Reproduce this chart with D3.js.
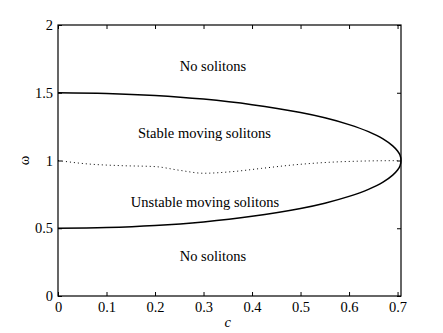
<!DOCTYPE html>
<html><head><meta charset="utf-8">
<script src="https://cdn.jsdelivr.net/npm/d3@7"></script>
<style>body{margin:0;background:#fff}svg{display:block}text{font-family:"Liberation Serif","DejaVu Serif","Times New Roman",serif;fill:#000}</style>
</head><body>
<script>
const xTicks = [0,0.1,0.2,0.3,0.4,0.5,0.6,0.7];
const yTicks = [0,0.5,1,1.5,2];
const yTickLabels = ["0","0.5","1","1.5","2"];
// boundary (upper branch)
const boundC     = [0, 0.1, 0.2, 0.3, 0.4, 0.5, 0.55, 0.6, 0.64, 0.67, 0.69, 0.70, 0.705, 0.7071];
const upperOmega = [1.5, 1.495, 1.48, 1.453, 1.412, 1.354, 1.315, 1.265, 1.213, 1.16, 1.108, 1.07, 1.04, 1.0];
const lowerOmega = [0.5, 0.505, 0.52, 0.547, 0.588, 0.646, 0.685, 0.735, 0.787, 0.84, 0.892, 0.93, 0.96, 1.0];
// dotted stability line
const dotC     = [0, 0.06, 0.13, 0.2, 0.25, 0.3, 0.36, 0.42, 0.49, 0.56, 0.63, 0.7];
const dotOmega = [1.0, 0.975, 0.962, 0.955, 0.928, 0.906, 0.918, 0.942, 0.969, 0.987, 0.996, 0.999];
const labels = [
  {text:"No solitons", c:0.3195, w:1.697},
  {text:"Stable moving solitons", c:0.302, w:1.203},
  {text:"Unstable moving solitons", c:0.303, w:0.696},
  {text:"No solitons", c:0.3195, w:0.295}
];

const W=443,H=333, L=58, R=401, T=25, B=296;
const svg = d3.select("body").append("svg").attr("width",W).attr("height",H);
const x = d3.scaleLinear().domain([0,0.7071]).range([L,R]);
const y = d3.scaleLinear().domain([0,2]).range([B,T]);

const fs = 14.5;
// axes with inward ticks
const gB = svg.append("g").attr("transform",`translate(0,${B})`)
  .call(d3.axisBottom(x).tickValues(xTicks).tickSize(-4).tickPadding(6).tickFormat(d3.format("")));
const gT = svg.append("g").attr("transform",`translate(0,${T})`)
  .call(d3.axisTop(x).tickValues(xTicks).tickSize(-4).tickFormat(""));
const gL = svg.append("g").attr("transform",`translate(${L},0)`)
  .call(d3.axisLeft(y).tickValues(yTicks).tickSize(-4).tickPadding(5).tickFormat((d,i)=>yTickLabels[i]));
const gR = svg.append("g").attr("transform",`translate(${R},0)`)
  .call(d3.axisRight(y).tickValues(yTicks).tickSize(-4).tickFormat(""));
[gB,gT,gL,gR].forEach(g=>{
  g.attr("font-family",null);
  g.select(".domain").remove();
  g.selectAll(".tick line").attr("stroke","#000").attr("stroke-width",1);
  g.selectAll("text").attr("font-size",fs);
});
svg.append("rect").attr("x",L).attr("y",T).attr("width",R-L).attr("height",B-T)
  .attr("fill","none").attr("stroke","#000").attr("stroke-width",1.2);

// boundary curve
const pts = boundC.map((c,i)=>[c,upperOmega[i]]).concat(
  boundC.slice().reverse().map((c,i)=>[c, lowerOmega[boundC.length-1-i]]).slice(1));
svg.append("path").datum(pts)
  .attr("d", d3.line().x(d=>x(d[0])).y(d=>y(d[1])).curve(d3.curveCatmullRom.alpha(0.5)))
  .attr("fill","none").attr("stroke","#000").attr("stroke-width",1.5);

// dotted line
svg.append("path").datum(dotC.map((c,i)=>[c,dotOmega[i]]))
  .attr("d", d3.line().x(d=>x(d[0])).y(d=>y(d[1])).curve(d3.curveMonotoneX))
  .attr("fill","none").attr("stroke","#000").attr("stroke-width",1).attr("stroke-dasharray","1,3");

// region labels
svg.selectAll("text.lab").data(labels).enter().append("text").attr("class","lab")
  .attr("x",d=>x(d.c)).attr("y",d=>y(d.w)).attr("text-anchor","middle").attr("dy","0.35em")
  .attr("font-size",fs).text(d=>d.text);

// axis labels
svg.append("text").attr("x",x(0.35)).attr("y",327).attr("text-anchor","middle")
  .attr("font-size",fs).attr("font-style","italic").text("c");
svg.append("text").attr("transform",`translate(29,${y(1)}) rotate(-90)`).attr("text-anchor","middle")
  .attr("font-size",fs).text("ω");
</script>
</body></html>
